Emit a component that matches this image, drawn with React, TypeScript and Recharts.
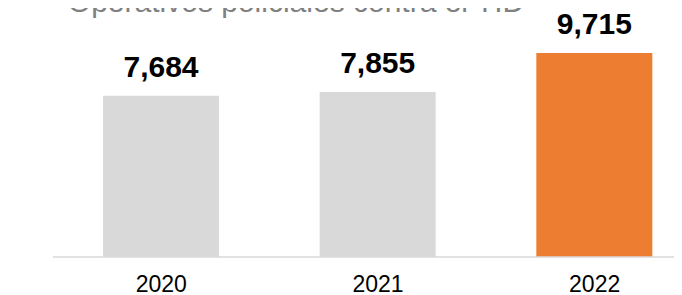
import React from "react";
import { BarChart, Bar, XAxis, YAxis, Cell, LabelList } from "recharts";

const years = ["2020", "2021", "2022"];
const operativos = [7684, 7855, 9715];
const barColors = ["#d9d9d9", "#d9d9d9", "#ed7d31"];
const title = "Operativos policiales contra el TID";

const data = years.map((year, i) => ({ year, value: operativos[i] }));

const FONT = "'Liberation Sans', Arial, sans-serif";

export default function App() {
  return (
    <div
      style={{
        margin: "-8px -8px 0 -8px",
        width: 682,
        height: 295,
        overflow: "hidden",
        position: "relative",
        background: "#fff",
        fontFamily: FONT,
      }}
    >
      <BarChart
        width={720}
        height={295}
        data={data}
        margin={{ top: 5, right: 17, left: 53, bottom: 0 }}
      >
        <YAxis hide domain={[0, 12000]} />
        <XAxis
          dataKey="year"
          height={38}
          axisLine={{ stroke: "#d9d9d9", strokeWidth: 1.5 }}
          tickLine={false}
          tickMargin={13}
          tick={{ fill: "#000", fontSize: 23, fontFamily: FONT }}
        />
        <Bar dataKey="value" barSize={116} isAnimationActive={false}>
          {data.map((d, i) => (
            <Cell key={d.year} fill={barColors[i]} />
          ))}
          <LabelList
            dataKey="value"
            position="top"
            offset={19}
            formatter={(v: any) => Number(v).toLocaleString("en-US")}
            style={{ fill: "#000", fontSize: 30, fontWeight: "bold", fontFamily: FONT }}
          />
        </Bar>
      </BarChart>
      <svg
        width={682}
        height={30}
        style={{ position: "absolute", left: 0, top: 0 }}
      >
        <text
          x={296}
          y={12}
          textAnchor="middle"
          fill="#808080"
          fontSize={30}
          fontFamily={FONT}
        >
          {title}
        </text>
      </svg>
    </div>
  );
}
